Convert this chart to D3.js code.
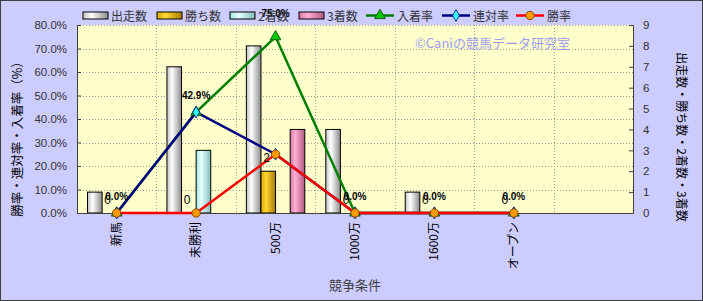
<!DOCTYPE html>
<html><head><meta charset="utf-8">
<script src="https://cdn.jsdelivr.net/npm/d3@7"></script>
<style>body{margin:0;background:#fff}svg{display:block}</style>
</head><body>
<script>
const categories = ["新馬","未勝利","500万","1000万","1600万","オープン",""];
const starts  = [1,7,8,4,1,0];   // 出走数
const wins    = [0,0,2,0,0,0];   // 勝ち数
const seconds = [0,3,0,0,0,0];   // 2着数
const thirds  = [0,0,4,0,0,0];   // 3着数
const placeRate  = [0,42.9,75.0,0,0,0]; // 入着率 %
const rentaiRate = [0,42.9,25.0,0,0,0]; // 連対率 %
const winRate    = [0,0,25.0,0,0,0];    // 勝率 %
const placeLabels  = [null,null,"75.0%",null,null,null];
const rentaiLabels = ["0.0%","42.9%",null,"0.0%","0.0%","0.0%"];
const winLabels    = ["0","0","2","0","0","0"];
const leftTicks = [0,10,20,30,40,50,60,70,80];
const rightTicks = [0,1,2,3,4,5,6,7,8,9];
const barNames = ["出走数","勝ち数","2着数","3着数"];
const lineNames = ["入着率","連対率","勝率"];

const W=703,H=301;
const svg=d3.select("body").append("svg").attr("width",W).attr("height",H);
const defs=svg.append("defs");
const grads=[
  ["g0",["#c4c4c4","#ffffff","#8c8c8c"]],
  ["g1",["#d9a800","#ffd633","#a67c00"]],
  ["g2",["#a8e0e0","#e8ffff","#80bcbc"]],
  ["g3",["#d9779f","#ffb0d4","#b05a84"]]
];
grads.forEach(([id,c])=>{
  const g=defs.append("linearGradient").attr("id",id).attr("x1","0").attr("x2","1").attr("y1","0").attr("y2","0");
  g.append("stop").attr("offset","0").attr("stop-color",c[0]);
  g.append("stop").attr("offset","0.35").attr("stop-color",c[1]);
  g.append("stop").attr("offset","1").attr("stop-color",c[2]);
});

svg.append("rect").attr("x",0.5).attr("y",0.5).attr("width",W-1).attr("height",H-1)
  .attr("fill","#ccccff").attr("stroke","#404040");

const L=77,R=633,T=25,B=213;
const x0=d3.scaleBand().domain(categories).range([L,R]).paddingInner(0).paddingOuter(0);
const x1=d3.scaleBand().domain(barNames).range([0,x0.bandwidth()]).paddingInner(0).paddingOuter(0.72);
const yL=d3.scaleLinear().domain([0,80]).range([B,T]);
const yR=d3.scaleLinear().domain([0,9]).range([B,T]);

svg.append("rect").attr("x",L).attr("y",T).attr("width",R-L).attr("height",B-T).attr("fill","#ffffcc");

// grid
const grid=svg.append("g").attr("stroke","#9a9a9a").attr("stroke-dasharray","1,2").attr("stroke-width",1);
leftTicks.filter(t=>t>0).forEach(t=>grid.append("line").attr("x1",L).attr("x2",R).attr("y1",Math.round(yL(t))+0.5).attr("y2",Math.round(yL(t))+0.5));
categories.slice(1).forEach(c=>grid.append("line").attr("x1",Math.round(x0(c))+0.5).attr("x2",Math.round(x0(c))+0.5).attr("y1",T).attr("y2",B));

// copyright
svg.append("text").attr("x",415).attr("y",48).attr("font-family","'Noto Sans CJK JP'").attr("font-size",13)
  .attr("fill","#9d9df0").text("©Caniの競馬データ研究室");

// bars
const barSeries=[starts,wins,seconds,thirds];
barSeries.forEach((arr,si)=>{
  const pts=arr.map((v,i)=>({v,i})).filter(d=>d.v>0);
  svg.append("g").selectAll("rect").data(pts).join("rect")
    .attr("x",d=>x0(categories[d.i])+x1(barNames[si]))
    .attr("y",d=>yR(d.v)).attr("width",x1.bandwidth()).attr("height",d=>B-yR(d.v))
    .attr("fill",`url(#g${si})`).attr("stroke","#000").attr("stroke-width",1);
});

// axes
const axL=svg.append("g").attr("transform",`translate(${L},0)`).call(d3.axisLeft(yL).tickValues(leftTicks).tickSize(-4).tickPadding(10).tickFormat(d=>d.toFixed(1)+"%"));
const axR=svg.append("g").attr("transform",`translate(${R},0)`).call(d3.axisRight(yR).tickValues(rightTicks).tickSize(-4).tickPadding(10).tickFormat(d3.format("d")));
[axL,axR].forEach(a=>{
  a.select(".domain").attr("stroke","#404040");
  a.selectAll(".tick line").attr("stroke","#404040");
  a.selectAll("text").attr("font-family","'Liberation Sans',Arial").attr("font-size",11.5).attr("fill","#333");
});
svg.append("line").attr("x1",L).attr("x2",R).attr("y1",B+0.5).attr("y2",B+0.5).attr("stroke","#404040");

// lines
const cx=i=>x0(categories[i])+x0.bandwidth()/2;
const lineSeries=[
  {vals:placeRate,color:"#008000"},
  {vals:rentaiRate,color:"#000080"},
  {vals:winRate,color:"#ff0000"}
];
const lineGen=d3.line().x((d,i)=>cx(i)).y(d=>yL(d));
lineSeries.forEach(s=>{
  svg.append("path").datum(s.vals).attr("d",lineGen).attr("fill","none").attr("stroke",s.color).attr("stroke-width",2.5);
});
function marker(g,k,x,y){
  if(k===0){
    g.append("path").attr("d",d3.symbol(d3.symbolTriangle,50)()).attr("transform",`translate(${x},${y})`)
      .attr("fill","#00cc00").attr("stroke","#004000").attr("stroke-width",0.8);
  }else if(k===1){
    g.append("path").attr("d",d3.symbol(d3.symbolDiamond,40)()).attr("transform",`translate(${x},${y})`)
      .attr("fill","#33ffff").attr("stroke","#000080").attr("stroke-width",0.8);
  }else{
    g.append("circle").attr("cx",x).attr("cy",y).attr("r",4.2).attr("fill","#ff9900").attr("stroke","#663300").attr("stroke-width",0.8);
  }
}
const mg=svg.append("g");
lineSeries.forEach((s,k)=>s.vals.forEach((v,i)=>marker(mg,k,cx(i),yL(v))));

// data labels
const lg=svg.append("g");
placeLabels.forEach((t,i)=>{ if(t) lg.append("text").attr("x",cx(i)).attr("y",yL(placeRate[i])-20).attr("text-anchor","middle")
  .attr("font-family","'Liberation Sans',Arial").attr("font-weight","bold").attr("font-size",10).attr("fill","#000").text(t);});
rentaiLabels.forEach((t,i)=>{ if(t) lg.append("text").attr("x",cx(i)).attr("y",yL(rentaiRate[i])-13).attr("text-anchor","middle")
  .attr("font-family","'Liberation Sans',Arial").attr("font-weight","bold").attr("font-size",10).attr("fill","#000").text(t);});
winLabels.forEach((t,i)=>{ if(t) lg.append("text").attr("x",cx(i)-9).attr("y",winRate[i]>0?yL(winRate[i])+8:yL(winRate[i])-9).attr("text-anchor","middle")
  .attr("font-family","'Liberation Sans',Arial").attr("font-size",12).attr("fill","#000").text(t);});

// x labels
categories.forEach((c,i)=>{ if(!c) return;
  svg.append("text").attr("transform",`translate(${cx(i)+4},${B+9}) rotate(-90)`).attr("text-anchor","end")
    .attr("font-family","'Noto Sans CJK JP'").attr("font-size",12).attr("fill","#000").text(c);
});

// titles
svg.append("text").attr("transform",`translate(22,${(T+B)/2+17}) rotate(-90)`).attr("text-anchor","middle")
  .attr("font-family","'Noto Sans CJK JP'").attr("font-size",12.5).attr("fill","#000").text("勝率・連対率・入着率（%）");
svg.append("text").attr("transform",`translate(677,${(T+B)/2+18}) rotate(90)`).attr("text-anchor","middle")
  .attr("font-family","'Noto Sans CJK JP'").attr("font-size",12).attr("fill","#000").text("出走数・勝ち数・2着数・3着数");
svg.append("text").attr("x",355).attr("y",290).attr("text-anchor","middle")
  .attr("font-family","'Noto Sans CJK JP'").attr("font-size",13).attr("fill","#404040").text("競争条件");

// legend
const leg=svg.append("g");
const barLegX=[83,157,230,299];
barNames.forEach((n,i)=>{
  leg.append("rect").attr("x",barLegX[i]).attr("y",12).attr("width",25).attr("height",7).attr("fill",`url(#g${i})`).attr("stroke","#000");
  leg.append("text").attr("x",barLegX[i]+28).attr("y",21).attr("font-family","'Noto Sans CJK JP'").attr("font-size",12).attr("fill","#333").text(n);
});
const lineLegX=[366,442,516];
lineNames.forEach((n,k)=>{
  leg.append("line").attr("x1",lineLegX[k]).attr("x2",lineLegX[k]+28).attr("y1",15.5).attr("y2",15.5).attr("stroke",lineSeries[k].color).attr("stroke-width",2.5);
  marker(leg,k,lineLegX[k]+14,15.5);
  leg.append("text").attr("x",lineLegX[k]+31).attr("y",21).attr("font-family","'Noto Sans CJK JP'").attr("font-size",12).attr("fill","#333").text(n);
});
</script>
</body></html>
